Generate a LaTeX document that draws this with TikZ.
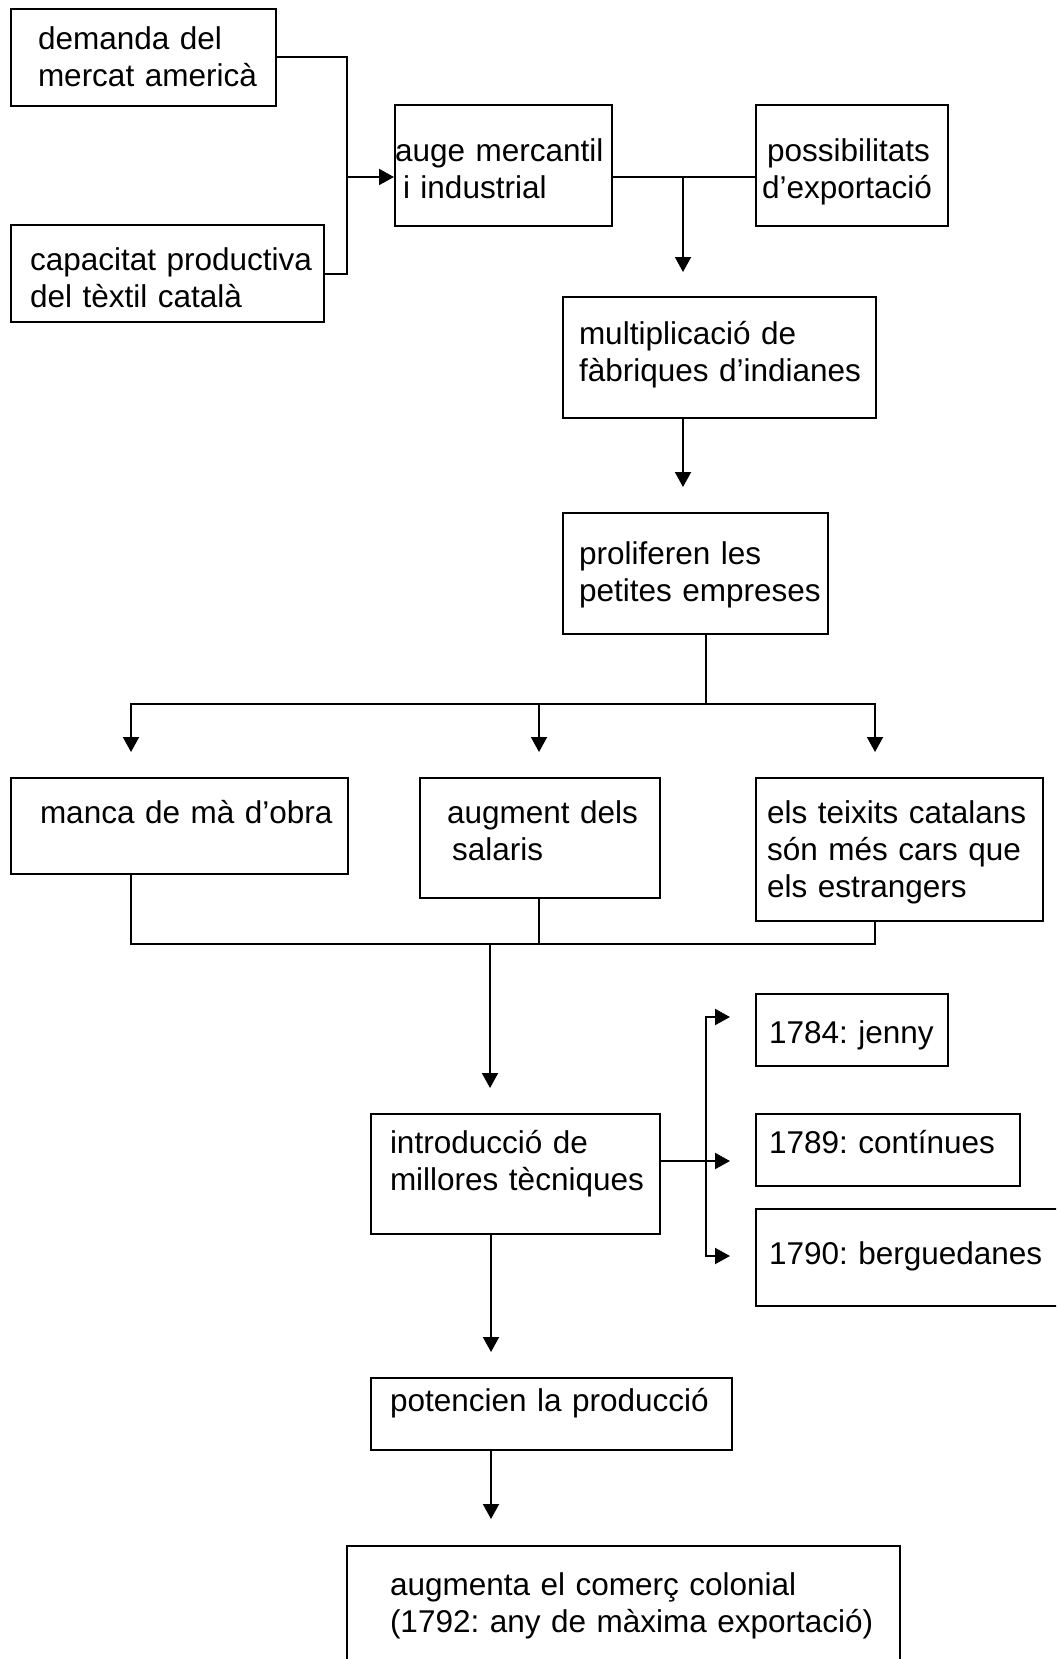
\documentclass[tikz,border=0pt]{standalone}
\usepackage{fontspec}
\setmainfont{Liberation Sans}
\usetikzlibrary{arrows.meta}
\frenchspacing

\begin{document}
\begin{tikzpicture}
[x=.5pt,y=-.5pt,line width=1pt,
box/.style n args={4}{draw,anchor=north west,inner sep=0pt,align=left,
  text width=#1,text height=#4,text depth={#2-#4},
  font=\fontsize{15.75pt}{18.5pt}\selectfont,
  execute at begin node={\leftskip=#3\relax}},
arr/.style={-{Triangle[length=7.5pt,width=8pt]}}]
\useasboundingbox (0,0) rectangle (1056,1659);
\clip (0,0) rectangle (1056,1659);

\node[box={132.5pt}{48.5pt}{13.5pt}{20.5pt}] (n1) at (10,8) {demanda del\\mercat americà};
\node[box={156.5pt}{48.5pt}{9.5pt}{22.5pt}] (n2) at (10,224) {capacitat productiva\\del tèxtil català};
\node[box={108.5pt}{60.5pt}{0pt}{28.5pt}] (n3) at (394,104) {auge mercantil\\\hspace*{4pt}i industrial};
\node[box={96pt}{60.5pt}{3pt}{28.5pt}] (n4) at (755,104) {\hspace*{2.5pt}possibilitats\\d’exportació};

\node[box={156.5pt}{60.5pt}{8pt}{23.5pt}] (n5) at (562,296) {multiplicació de\\fàbriques d’indianes};
\node[box={132.5pt}{60.5pt}{8pt}{25.5pt}] (n6) at (562,512) {proliferen les\\petites empreses};

\node[box={168.5pt}{48pt}{14.5pt}{22.5pt}] (n7) at (10,777) {manca de mà d’obra};
\node[box={120pt}{60pt}{13.5pt}{22.5pt}] (n8) at (419,777) {augment dels\\\hspace*{2.5pt}salaris};
\node[box={143.5pt}{71.5pt}{5.5pt}{22.5pt}] (n9) at (755,777) {els teixits catalans\\són més cars que\\els estrangers};

\node[box={144.5pt}{60pt}{9.5pt}{19.5pt}] (n10) at (370,1113) {introducció de\\millores tècniques};
\node[box={96pt}{36pt}{6.5pt}{24.5pt}] (n11) at (755,993) {1784: jenny};
\node[box={132pt}{36pt}{6.5pt}{19.5pt}] (n12) at (755,1113) {1789: contínues};
\node[box={157.5pt}{48.5pt}{6.5pt}{27.5pt}] (n13) at (755,1208) {1790: berguedanes};

\node[box={180.5pt}{36pt}{9.5pt}{16.5pt}] (n14) at (370,1377) {potencien la producció};
\node[box={276.5pt}{67.5pt}{21.5pt}{24.5pt}] (n15) at (346,1545) {augmenta el comerç colonial\\(1792: any de màxima exportació)};

\coordinate (c1) at (347,177);
\coordinate (c2) at (683,272);
\coordinate (c3) at (683,487);
\coordinate (c4) at (706,704);
\coordinate (t1) at (131,752);
\coordinate (t2) at (539,752);
\coordinate (t3) at (875,752);
\coordinate (c5) at (490,944);
\coordinate (c6) at (490,1088);
\coordinate (c7) at (706,1161);
\coordinate (e1) at (730,1017);
\coordinate (e2) at (730,1161);
\coordinate (e3) at (730,1256);
\coordinate (c8) at (491,1352);
\coordinate (c9) at (491,1519);

\draw (n1.east) -| (c1);
\draw (n2.east) -| (c1);
\draw[arr] (c1) -- (c1 -| n3.west);
\draw (n3.east |- c1) -- (n4.west |- c1);
\draw[arr] (c2 |- c1) -- (c2);
\draw[arr] (n5.south -| c3) -- (c3);

\draw (n6.south -| c4) -- (c4);
\foreach \t in {t1,t3}
\draw[arr] (c4) -| (\t);
\draw[arr] (t2 |- c4) -- (t2);

\draw (n7.south -| t1) |- (c5);
\draw (n9.south -| t3) |- (c5);
\draw (n8.south -| t2) -- (t2 |- c5);
\draw[arr] (c5) -- (c6);

\draw[arr] (n10.east |- c7) -- (e2);
\foreach \e in {e1,e3}
\draw[arr] (c7) |- (\e);
\draw[arr] (n10.south -| c8) -- (c8);
\draw[arr] (n14.south -| c9) -- (c9);
\end{tikzpicture}
\end{document}
